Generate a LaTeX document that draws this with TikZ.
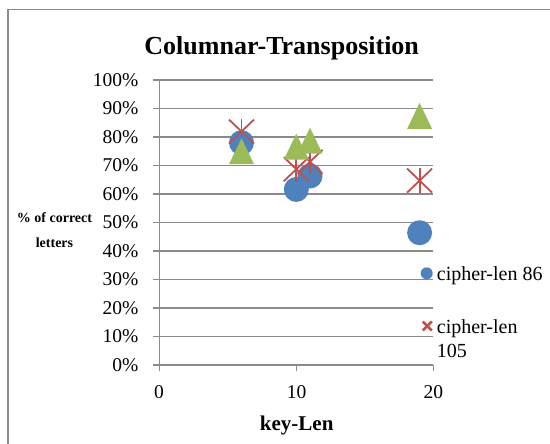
\documentclass[tikz,border=0pt]{standalone}
\usepackage{fontspec}
\setmainfont{Liberation Serif}
\definecolor{sblue}{HTML}{4F81BD}
\definecolor{sred}{HTML}{C0504D}
\definecolor{sgreen}{HTML}{9BBB59}
\definecolor{gridgray}{HTML}{8A8A8A}
\begin{document}
\begin{tikzpicture}[x=1pt,y=1pt,
  grid/.style={draw=gridgray,line width=1.4pt},
  ticklab/.style={font=\fontsize{19.5}{22}\selectfont,inner sep=0pt},
  bluedot/.style={circle,fill=sblue,inner sep=0pt,minimum size=25pt},
  redstar/.style={draw=sred,line width=1.8pt},
  greentri/.style={fill=sgreen},
  legtext/.style={font=\fontsize{20}{24.4}\selectfont,inner sep=0pt,align=left}]
\useasboundingbox (0,0) rectangle (550,444);
% outer frame
\draw[gridgray,line width=1.6pt] (7.7,-2) -- (7.7,434.5) -- (552,434.5);
% title
\node[font=\fontsize{26}{30}\selectfont\bfseries,anchor=base,inner sep=0pt] (title) at (281.7,389) {Columnar-Transposition};
% gridlines and y labels  (y=0% at 79, 28.5pt per 10%)
\foreach \k/\lab in {0/0\%,1/10\%,2/20\%,3/30\%,4/40\%,5/50\%,6/60\%,7/70\%,8/80\%,9/90\%,10/100\%}{
  \draw[grid] (153,{79+28.5*\k}) -- (433.3,{79+28.5*\k});
  \node[ticklab,anchor=base east] (yl\k) at (138.5,{79+28.5*\k-6.4}) {\lab};
}
% vertical axis and x ticks
\draw[grid] (159.3,73) -- (159.3,364);
\draw[grid] (296.3,73) -- (296.3,79);
\draw[grid] (433.3,73) -- (433.3,79);
\node[ticklab,anchor=base] (x0) at (159,45.7) {0};
\node[ticklab,anchor=base] (x10) at (296.7,45.7) {10};
\node[ticklab,anchor=base] (x20) at (433.3,45.7) {20};
% axis titles
\node[font=\fontsize{21}{24}\selectfont\bfseries,anchor=base,inner sep=0pt] (xtitle) at (296.7,13.3) {key-Len};
\node[font=\fontsize{14}{25}\selectfont\bfseries,anchor=base,inner sep=0pt] (yt1) at (54.5,221.3) {\% of correct};
\node[font=\fontsize{14}{25}\selectfont\bfseries,anchor=base,inner sep=0pt] (yt2) at (54.5,196.3) {letters};
% data
\begin{scope}[shift={(159.3,79)},x=13.7pt,y=2.85pt]
  \foreach \px/\py [count=\i] in {6/78,10/61.6,11/66.3,19/46.4}
    \node[bluedot] (b\i) at (\px,\py) {};
  \foreach \px/\py [count=\i] in {6/81.9,10/68.7,11/71.3,19/64.7}{
    \coordinate (r\i) at (\px,\py);
    \draw[redstar] (r\i) ++(-12.5pt,-12pt) -- ++(25pt,24pt);
    \draw[redstar] (r\i) ++(-12.5pt,12pt) -- ++(25pt,-24pt);
    \draw[redstar] (r\i) ++(0,-12.5pt) -- ++(0,25pt);
  }
  \foreach \px/\py [count=\i] in {6/75,10/76.6,11/78.7,19/87.4}{
    \coordinate (g\i) at (\px,\py);
    \fill[greentri] (g\i) ++(0,13pt) -- ++(12.5pt,-26pt) -- ++(-25pt,0) -- cycle;
  }
\end{scope}
% legend
\node[circle,fill=sblue,inner sep=0pt,minimum size=12pt] (lb) at (426.7,170.7) {};
\node[legtext,anchor=base west] (lbt) at (436.7,163) {cipher-len 86};
\coordinate (lr) at (427.3,118);
\draw[sred,line width=2.6pt] (lr) ++(-4.5pt,-4.5pt) -- ++(9pt,9pt);
\draw[sred,line width=2.6pt] (lr) ++(-4.5pt,4.5pt) -- ++(9pt,-9pt);
\node[legtext,anchor=base west] (lrt1) at (436.7,110.7) {cipher-len};
\node[legtext,anchor=base west] (lrt2) at (436.7,86.3) {105};
\end{tikzpicture}
\end{document}
